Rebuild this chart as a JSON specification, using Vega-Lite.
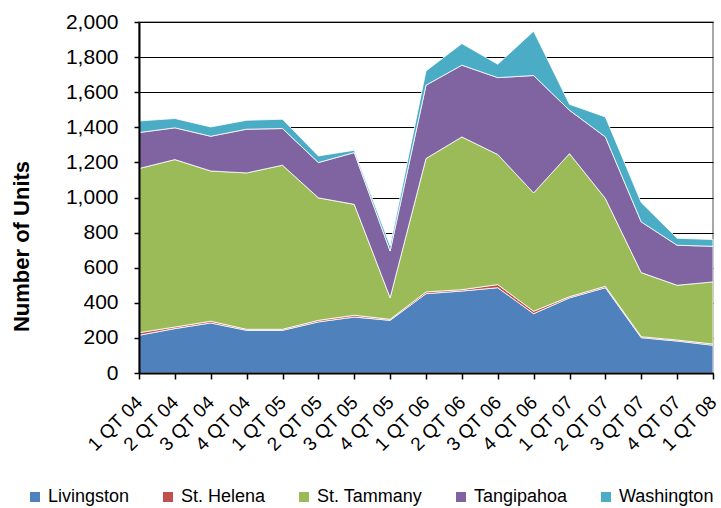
{
  "$schema": "https://vega.github.io/schema/vega-lite/v6.json",
  "width": 574,
  "height": 351,
  "autosize": "none",
  "padding": {"left": 139, "top": 22, "right": 8, "bottom": 135},
  "background": "white",
  "config": {
    "font": "Liberation Sans",
    "view": {"stroke": "#8c8c8c", "strokeWidth": 1.5},
    "axis": {"labelColor": "#000", "titleColor": "#000", "labelFont": "Liberation Sans", "titleFont": "Liberation Sans"}
  },
  "data": {"values": [
    {"q":"1 QT 04","c":"Livingston","v":215},{"q":"1 QT 04","c":"St. Helena","v":15},{"q":"1 QT 04","c":"St. Tammany","v":935},{"q":"1 QT 04","c":"Tangipahoa","v":205},{"q":"1 QT 04","c":"Washington","v":66},
    {"q":"2 QT 04","c":"Livingston","v":253},{"q":"2 QT 04","c":"St. Helena","v":9},{"q":"2 QT 04","c":"St. Tammany","v":954},{"q":"2 QT 04","c":"Tangipahoa","v":181},{"q":"2 QT 04","c":"Washington","v":53},
    {"q":"3 QT 04","c":"Livingston","v":285},{"q":"3 QT 04","c":"St. Helena","v":10},{"q":"3 QT 04","c":"St. Tammany","v":856},{"q":"3 QT 04","c":"Tangipahoa","v":198},{"q":"3 QT 04","c":"Washington","v":53},
    {"q":"4 QT 04","c":"Livingston","v":243},{"q":"4 QT 04","c":"St. Helena","v":6},{"q":"4 QT 04","c":"St. Tammany","v":891},{"q":"4 QT 04","c":"Tangipahoa","v":249},{"q":"4 QT 04","c":"Washington","v":51},
    {"q":"1 QT 05","c":"Livingston","v":243},{"q":"1 QT 05","c":"St. Helena","v":6},{"q":"1 QT 05","c":"St. Tammany","v":935},{"q":"1 QT 05","c":"Tangipahoa","v":209},{"q":"1 QT 05","c":"Washington","v":53},
    {"q":"2 QT 05","c":"Livingston","v":291},{"q":"2 QT 05","c":"St. Helena","v":9},{"q":"2 QT 05","c":"St. Tammany","v":698},{"q":"2 QT 05","c":"Tangipahoa","v":201},{"q":"2 QT 05","c":"Washington","v":38},
    {"q":"3 QT 05","c":"Livingston","v":319},{"q":"3 QT 05","c":"St. Helena","v":10},{"q":"3 QT 05","c":"St. Tammany","v":632},{"q":"3 QT 05","c":"Tangipahoa","v":295},{"q":"3 QT 05","c":"Washington","v":13},
    {"q":"4 QT 05","c":"Livingston","v":300},{"q":"4 QT 05","c":"St. Helena","v":6},{"q":"4 QT 05","c":"St. Tammany","v":123},{"q":"4 QT 05","c":"Tangipahoa","v":266},{"q":"4 QT 05","c":"Washington","v":30},
    {"q":"1 QT 06","c":"Livingston","v":452},{"q":"1 QT 06","c":"St. Helena","v":10},{"q":"1 QT 06","c":"St. Tammany","v":760},{"q":"1 QT 06","c":"Tangipahoa","v":418},{"q":"1 QT 06","c":"Washington","v":81},
    {"q":"2 QT 06","c":"Livingston","v":467},{"q":"2 QT 06","c":"St. Helena","v":8},{"q":"2 QT 06","c":"St. Tammany","v":870},{"q":"2 QT 06","c":"Tangipahoa","v":409},{"q":"2 QT 06","c":"Washington","v":123},
    {"q":"3 QT 06","c":"Livingston","v":486},{"q":"3 QT 06","c":"St. Helena","v":18},{"q":"3 QT 06","c":"St. Tammany","v":741},{"q":"3 QT 06","c":"Tangipahoa","v":438},{"q":"3 QT 06","c":"Washington","v":76},
    {"q":"4 QT 06","c":"Livingston","v":338},{"q":"4 QT 06","c":"St. Helena","v":14},{"q":"4 QT 06","c":"St. Tammany","v":674},{"q":"4 QT 06","c":"Tangipahoa","v":669},{"q":"4 QT 06","c":"Washington","v":253},
    {"q":"1 QT 07","c":"Livingston","v":428},{"q":"1 QT 07","c":"St. Helena","v":7},{"q":"1 QT 07","c":"St. Tammany","v":815},{"q":"1 QT 07","c":"Tangipahoa","v":247},{"q":"1 QT 07","c":"Washington","v":34},
    {"q":"2 QT 07","c":"Livingston","v":486},{"q":"2 QT 07","c":"St. Helena","v":8},{"q":"2 QT 07","c":"St. Tammany","v":500},{"q":"2 QT 07","c":"Tangipahoa","v":351},{"q":"2 QT 07","c":"Washington","v":114},
    {"q":"3 QT 07","c":"Livingston","v":201},{"q":"3 QT 07","c":"St. Helena","v":6},{"q":"3 QT 07","c":"St. Tammany","v":365},{"q":"3 QT 07","c":"Tangipahoa","v":289},{"q":"3 QT 07","c":"Washington","v":110},
    {"q":"4 QT 07","c":"Livingston","v":182},{"q":"4 QT 07","c":"St. Helena","v":6},{"q":"4 QT 07","c":"St. Tammany","v":312},{"q":"4 QT 07","c":"Tangipahoa","v":228},{"q":"4 QT 07","c":"Washington","v":40},
    {"q":"1 QT 08","c":"Livingston","v":158},{"q":"1 QT 08","c":"St. Helena","v":7},{"q":"1 QT 08","c":"St. Tammany","v":354},{"q":"1 QT 08","c":"Tangipahoa","v":203},{"q":"1 QT 08","c":"Washington","v":38}
  ]},
  "encoding": {
    "x": {"field": "q", "type": "ordinal", "sort": null, "title": null, "scale": {"type": "point", "padding": 0},
      "axis": {"labelAngle": -45, "labelFontSize": 19, "labelPadding": 20, "tickSize": 6, "tickColor": "#000", "tickWidth": 1.5,
               "domain": true, "domainColor": "#000", "domainWidth": 2, "grid": false, "zindex": 1, "labelAlign": "right", "labelBaseline": "middle"}},
    "color": {
      "field": "c", "type": "nominal",
      "scale": {"domain": ["Livingston", "St. Helena", "St. Tammany", "Tangipahoa", "Washington"], "range": ["#4F81BD", "#C0504D", "#9BBB59", "#8064A2", "#4BACC6"]},
      "legend": {
        "orient": "none", "legendX": -113, "legendY": 466, "direction": "horizontal", "title": null,
        "symbolType": "square", "symbolSize": 100, "symbolStrokeWidth": 0, "symbolOpacity": 1,
        "labelFontSize": 18, "labelColor": "#000", "labelOffset": 4, "columnPadding": 29, "padding": 0
      }
    },
    "order": {"field": "c", "sort": "ascending"}
  },
  "layer": [
    {
      "mark": {"type": "area", "stroke": "white", "strokeWidth": 0.8, "opacity": 1},
      "encoding": {
        "y": {"field": "v", "type": "quantitative", "stack": "zero", "scale": {"domain": [0, 2000], "nice": false},
          "axis": {"grid": true, "gridColor": "#000", "gridWidth": 1.2, "values": [0,200,400,600,800,1000,1200,1400,1600,1800,2000],
                   "domain": false, "ticks": false, "labels": false, "title": null, "zindex": 0}}
      }
    },
    {
      "mark": {"type": "area", "opacity": 0},
      "encoding": {
        "y": {"field": "v", "type": "quantitative", "stack": "zero", "scale": {"domain": [0, 2000], "nice": false},
          "axis": {"orient": "left", "grid": false, "values": [0,200,400,600,800,1000,1200,1400,1600,1800,2000], "format": ",d",
                   "domain": true, "ticks": true, "labels": true,
                   "labelFontSize": 21, "labelPadding": 16, "tickSize": 5, "tickColor": "#000", "tickWidth": 1.5,
                   "domainColor": "#000", "domainWidth": 2, "zindex": 1,
                   "title": "Number of Units", "titleFontSize": 22, "titleFontWeight": "bold", "titleAngle": -90,
                   "titleX": -118, "titleY": 224, "titleAlign": "center", "titleBaseline": "middle"}}
      }
    }
  ],
  "resolve": {"scale": {"y": "independent"}, "axis": {"y": "independent"}}
}
